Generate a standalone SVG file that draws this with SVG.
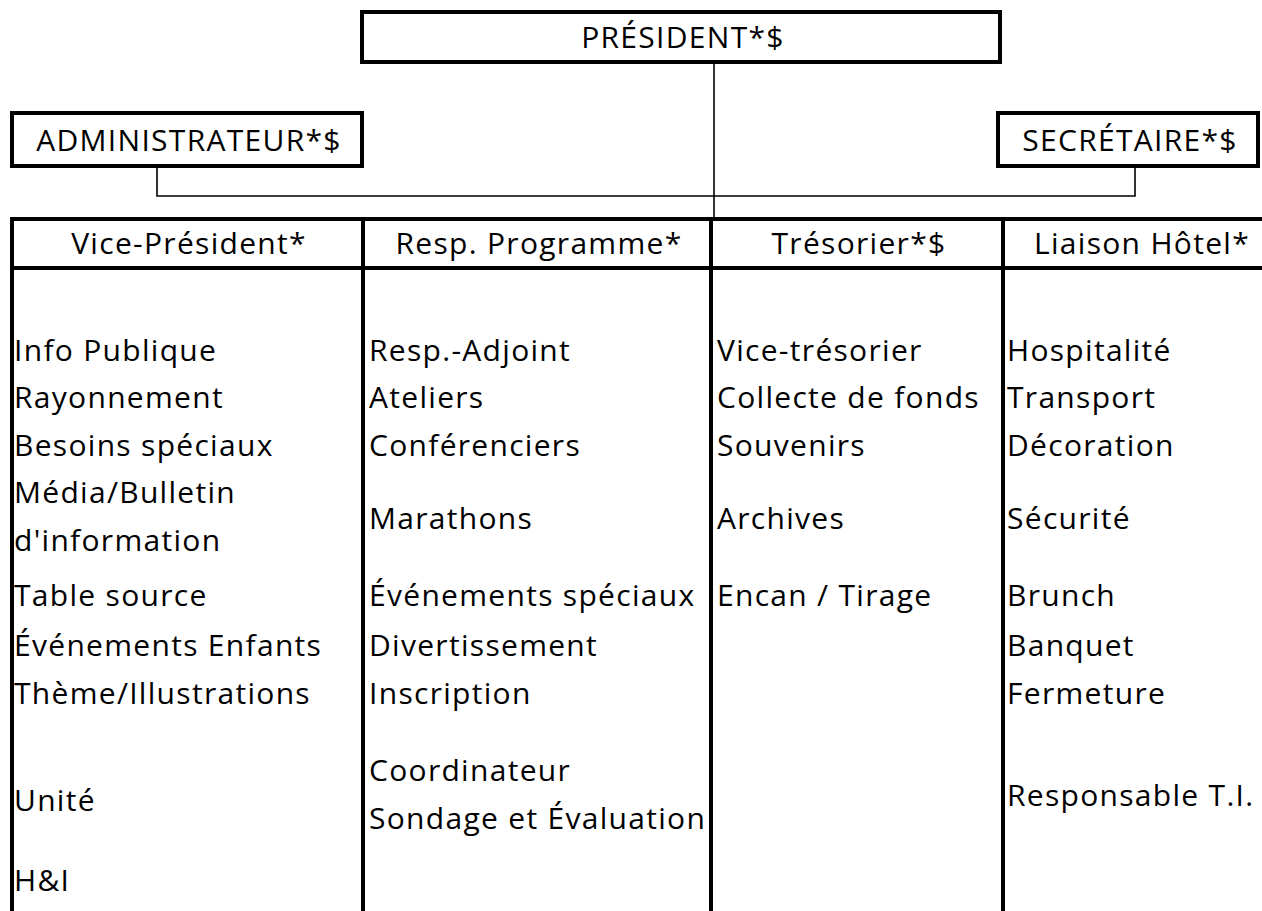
<svg xmlns="http://www.w3.org/2000/svg" width="1262" height="911" viewBox="0 0 1262 911">
<style>
  .box { fill: #ffffff; stroke: #000000; stroke-width: 4; }
  .thick { stroke: #000000; stroke-width: 4; fill: none; }
  .thin { stroke: #000000; stroke-width: 1.6; fill: none; }
  text { font-family: "Open Sans", "Liberation Sans", sans-serif; font-size: 30px; font-weight: 500; letter-spacing: 1.3px; fill: #000000; }
  .c { text-anchor: middle; }
</style>
<rect width="1262" height="911" fill="#ffffff"/>
<g id="connectors">
  <line class="thin" x1="714" y1="62" x2="714" y2="219"/>
  <polyline class="thin" points="157,166 157,196 1135,196 1135,166"/>
</g>
<g id="president">
  <rect class="box" x="362" y="12" width="638" height="50"/>
  <text class="c" x="683" y="48">PRÉSIDENT*$</text>
</g>
<g id="administrateur">
  <rect class="box" x="12" y="113" width="350" height="53"/>
  <text class="c" x="189" y="151">ADMINISTRATEUR*$</text>
</g>
<g id="secretaire">
  <rect class="box" x="998" y="113" width="260" height="53"/>
  <text class="c" x="1130" y="151">SECRÉTAIRE*$</text>
</g>
<g id="table">
  <line class="thick" x1="10" y1="219" x2="1262" y2="219"/>
  <line class="thick" x1="10" y1="268" x2="1262" y2="268"/>
  <line class="thick" x1="12" y1="217" x2="12" y2="911"/>
  <line class="thick" x1="363" y1="217" x2="363" y2="911"/>
  <line class="thick" x1="711" y1="217" x2="711" y2="911"/>
  <line class="thick" x1="1003" y1="217" x2="1003" y2="911"/>
</g>
<g id="col-vice-president">
  <text class="c" x="189" y="254">Vice-Président*</text>
  <text x="14" y="361">Info Publique</text>
  <text x="14" y="408">Rayonnement</text>
  <text x="14" y="456">Besoins spéciaux</text>
  <text x="14" y="503">Média/Bulletin</text>
  <text x="14" y="551">d'information</text>
  <text x="14" y="606">Table source</text>
  <text x="14" y="656">Événements Enfants</text>
  <text x="14" y="704">Thème/Illustrations</text>
  <text x="14" y="811">Unité</text>
  <text x="14" y="891">H&amp;I</text>
</g>
<g id="col-programme">
  <text class="c" x="539" y="254">Resp. Programme*</text>
  <text x="369" y="361">Resp.-Adjoint</text>
  <text x="369" y="408">Ateliers</text>
  <text x="369" y="456">Conférenciers</text>
  <text x="369" y="529">Marathons</text>
  <text x="369" y="606">Événements spéciaux</text>
  <text x="369" y="656">Divertissement</text>
  <text x="369" y="704">Inscription</text>
  <text x="369" y="781">Coordinateur</text>
  <text x="369" y="829">Sondage et Évaluation</text>
</g>
<g id="col-tresorier">
  <text class="c" x="859" y="254">Trésorier*$</text>
  <text x="717" y="361">Vice-trésorier</text>
  <text x="717" y="408">Collecte de fonds</text>
  <text x="717" y="456">Souvenirs</text>
  <text x="717" y="529">Archives</text>
  <text x="717" y="606">Encan / Tirage</text>
</g>
<g id="col-hotel">
  <text class="c" x="1142" y="254">Liaison Hôtel*</text>
  <text x="1007" y="361">Hospitalité</text>
  <text x="1007" y="408">Transport</text>
  <text x="1007" y="456">Décoration</text>
  <text x="1007" y="529">Sécurité</text>
  <text x="1007" y="606">Brunch</text>
  <text x="1007" y="656">Banquet</text>
  <text x="1007" y="704">Fermeture</text>
  <text x="1007" y="806">Responsable T.I.</text>
</g>
</svg>
